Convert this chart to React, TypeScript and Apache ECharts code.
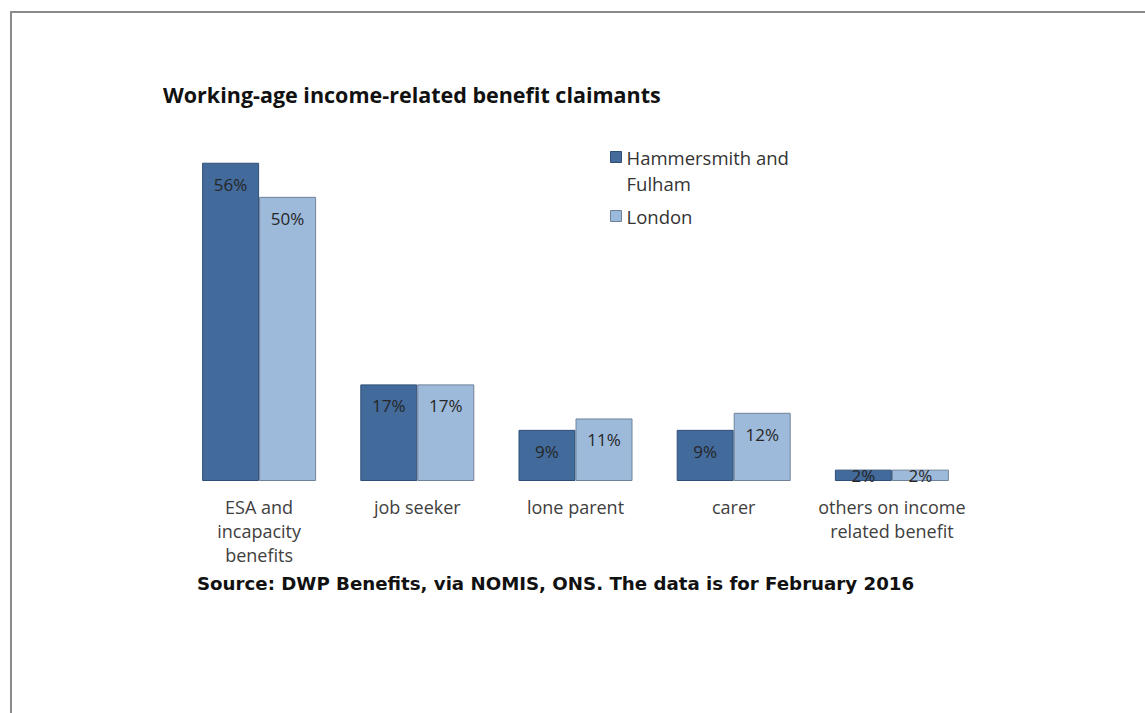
import React, { useEffect, useRef } from "react";
import * as echarts from "echarts";

const categories = [
  "ESA and\nincapacity\nbenefits",
  "job seeker",
  "lone parent",
  "carer",
  "others on income\nrelated benefit",
];
const seriesNames = ["Hammersmith and Fulham", "London"];
const hammersmith = [56, 17, 9, 9, 2];
const london = [50, 17, 11, 12, 2];
const titleText = "Working-age income-related benefit claimants";
const sourceText = "Source: DWP Benefits, via NOMIS, ONS. The data is for February 2016";

const FONT = "'Open Sans', 'DejaVu Sans', sans-serif";

function toData(values: number[]) {
  return values.map((v) => (v < 5 ? { value: v, label: { position: "inside" } } : { value: v }));
}

export default function App() {
  const ref = useRef<HTMLDivElement>(null);
  useEffect(() => {
    if (!ref.current) return;
    const chart = echarts.init(ref.current, undefined, { renderer: "svg" });
    const label = {
      show: true,
      position: "insideTop",
      distance: 13,
      formatter: "{c}%",
      color: "#262626",
      fontSize: 17,
      fontFamily: FONT,
    };
    chart.setOption({
      animation: false,
      backgroundColor: "#ffffff",
      title: [
        {
          text: titleText,
          left: 163,
          top: 83,
          padding: 0,
          textStyle: { fontFamily: FONT, fontSize: 21.5, fontWeight: "bold", color: "#111111" },
        },
        {
          text: sourceText,
          left: 197,
          top: 574,
          padding: 0,
          textStyle: { fontFamily: "'DejaVu Sans', sans-serif", fontSize: 18.2, fontWeight: "bold", color: "#111111" },
        },
      ],
      legend: [
        {
          data: [seriesNames[0]],
          left: 610,
          top: 118,
          padding: 0,
          icon: "rect",
          itemWidth: 11,
          itemHeight: 11,
          itemGap: 0,
          orient: "vertical",
          formatter: () => "\nHammersmith and\nFulham",
          textStyle: { fontFamily: FONT, fontSize: 18.5, lineHeight: 26, color: "#333333" },
          itemStyle: { borderColor: "#2f4f78", borderWidth: 1 },
        },
        {
          data: [seriesNames[1]],
          left: 610,
          top: 203,
          padding: 0,
          icon: "rect",
          itemWidth: 11,
          itemHeight: 11,
          orient: "vertical",
          textStyle: { fontFamily: FONT, fontSize: 18.5, lineHeight: 26, color: "#333333" },
          itemStyle: { borderColor: "#6f8199", borderWidth: 1 },
        },
      ],
      grid: { left: 180, top: 140, width: 791, height: 341, containLabel: false },
      xAxis: {
        type: "category",
        data: categories,
        axisLine: { show: false },
        axisTick: { show: false },
        axisLabel: {
          interval: 0,
          margin: 14,
          fontFamily: FONT,
          fontSize: 18,
          lineHeight: 24,
          color: "#404040",
        },
      },
      yAxis: {
        type: "value",
        min: 0,
        max: 60,
        show: false,
        splitLine: { show: false },
      },
      graphic: [
        {
          type: "rect",
          shape: { x: 11, y: 12, width: 1300, height: 900 },
          style: { fill: "none", stroke: "#8a8a8a", lineWidth: 2 },
          silent: true,
        },
      ],
      series: [
        {
          name: seriesNames[0],
          type: "bar",
          data: toData(hammersmith),
          barWidth: 57,
          barGap: "0%",
          itemStyle: { color: "#426a9b", borderColor: "#2f4f78", borderWidth: 1 },
          label,
        },
        {
          name: seriesNames[1],
          type: "bar",
          data: toData(london),
          barWidth: 57,
          barGap: "0%",
          itemStyle: { color: "#9ebadb", borderColor: "#6f8199", borderWidth: 1 },
          label,
        },
      ],
    });
    return () => chart.dispose();
  }, []);
  return (
    <div
      ref={ref}
      style={{ position: "fixed", left: 0, top: 0, width: 1145, height: 713, background: "#fff" }}
    />
  );
}
